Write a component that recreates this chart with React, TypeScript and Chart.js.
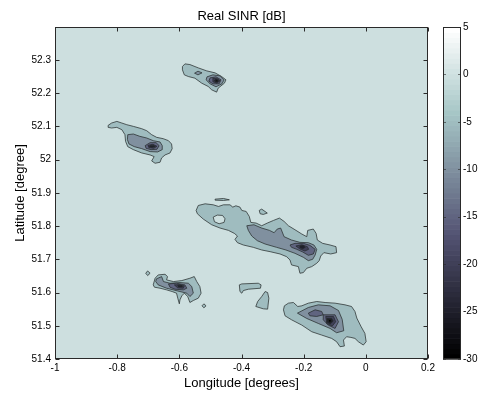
import React, { useEffect, useRef } from "react";
import { Chart, registerables } from "chart.js";

Chart.register(...registerables);

type Pt = [number, number];

// ---- axes / scale values ----
const lonRange = [-1, 0.2];
const latRange = [51.4, 52.399];
const sinrRange = [-30, 5];
const lonTicks = [-1, -0.8, -0.6, -0.4, -0.2, 0, 0.2];
const latTicks = [51.4, 51.5, 51.6, 51.7, 51.8, 51.9, 52.0, 52.1, 52.2, 52.3];
const cbTicks = [-30, -25, -20, -15, -10, -5, 0, 5];
const backgroundLevel = 0;

// ---- contour polygons [lon, lat] ----
// north cluster (~52.25)
const n1_5: Pt[] = [[-0.590,52.280],[-0.582,52.288],[-0.566,52.286],[-0.539,52.276],[-0.512,52.267],[-0.485,52.261],[-0.464,52.250],[-0.450,52.240],[-0.455,52.230],[-0.475,52.215],[-0.480,52.203],[-0.496,52.210],[-0.507,52.220],[-0.528,52.230],[-0.550,52.245],[-0.571,52.250],[-0.584,52.255],[-0.590,52.270]];
const n1_10a: Pt[] = [[-0.551,52.260],[-0.540,52.266],[-0.527,52.261],[-0.540,52.255]];
const n1_10b: Pt[] = [[-0.511,52.249],[-0.492,52.255],[-0.469,52.252],[-0.456,52.240],[-0.463,52.228],[-0.482,52.219],[-0.501,52.228],[-0.514,52.240]];
const n1_15: Pt[] = [[-0.501,52.246],[-0.482,52.249],[-0.466,52.240],[-0.472,52.228],[-0.492,52.228],[-0.505,52.236]];
const n1_20: Pt[] = [[-0.492,52.245],[-0.476,52.243],[-0.469,52.237],[-0.479,52.230],[-0.492,52.234]];
const n1_25: Pt[] = [[-0.485,52.241],[-0.476,52.240],[-0.474,52.236],[-0.482,52.233],[-0.488,52.237]];
const n1_30: Pt[] = [[-0.482,52.240],[-0.476,52.238],[-0.477,52.234],[-0.483,52.235]];

// north-west cluster (~52.05)
const n2_5: Pt[] = [[-0.829,52.103],[-0.818,52.110],[-0.801,52.115],[-0.785,52.110],[-0.769,52.105],[-0.748,52.100],[-0.721,52.093],[-0.705,52.087],[-0.689,52.075],[-0.673,52.067],[-0.652,52.063],[-0.635,52.057],[-0.625,52.047],[-0.623,52.033],[-0.630,52.020],[-0.646,52.014],[-0.657,52.005],[-0.662,51.992],[-0.678,51.989],[-0.689,51.996],[-0.681,52.009],[-0.694,52.014],[-0.721,52.020],[-0.748,52.030],[-0.766,52.039],[-0.773,52.055],[-0.775,52.075],[-0.785,52.090],[-0.801,52.097],[-0.818,52.095],[-0.829,52.097]];
const n2_10: Pt[] = [[-0.766,52.075],[-0.748,52.077],[-0.727,52.070],[-0.705,52.065],[-0.684,52.057],[-0.662,52.053],[-0.655,52.042],[-0.655,52.030],[-0.670,52.023],[-0.694,52.024],[-0.721,52.033],[-0.745,52.039],[-0.762,52.047],[-0.767,52.060]];
const n2_15: Pt[] = [[-0.710,52.042],[-0.694,52.051],[-0.675,52.051],[-0.665,52.042],[-0.672,52.031],[-0.691,52.030],[-0.707,52.034]];
const n2_20: Pt[] = [[-0.701,52.043],[-0.685,52.046],[-0.672,52.040],[-0.682,52.034],[-0.698,52.036]];
const n2_25: Pt[] = [[-0.694,52.042],[-0.681,52.042],[-0.678,52.039],[-0.688,52.037],[-0.696,52.039]];

// central band (~51.75)
const c3_5: Pt[] = [[-0.546,51.847],[-0.539,51.862],[-0.517,51.867],[-0.491,51.864],[-0.474,51.859],[-0.458,51.864],[-0.437,51.864],[-0.428,51.857],[-0.418,51.861],[-0.405,51.857],[-0.399,51.847],[-0.385,51.844],[-0.375,51.829],[-0.370,51.811],[-0.353,51.809],[-0.335,51.801],[-0.317,51.809],[-0.297,51.817],[-0.278,51.824],[-0.263,51.814],[-0.249,51.801],[-0.228,51.789],[-0.206,51.776],[-0.190,51.768],[-0.187,51.787],[-0.169,51.791],[-0.160,51.778],[-0.156,51.758],[-0.139,51.748],[-0.115,51.743],[-0.096,51.738],[-0.094,51.720],[-0.113,51.716],[-0.135,51.720],[-0.145,51.710],[-0.150,51.696],[-0.158,51.688],[-0.174,51.678],[-0.190,51.673],[-0.201,51.660],[-0.212,51.658],[-0.217,51.678],[-0.239,51.683],[-0.244,51.698],[-0.255,51.708],[-0.276,51.716],[-0.308,51.723],[-0.335,51.728],[-0.362,51.736],[-0.394,51.743],[-0.413,51.750],[-0.421,51.760],[-0.413,51.770],[-0.423,51.778],[-0.442,51.787],[-0.469,51.794],[-0.496,51.804],[-0.523,51.821],[-0.542,51.837]];
const c3_5b: Pt[] = [[-0.343,51.847],[-0.335,51.851],[-0.317,51.839],[-0.330,51.835],[-0.340,51.837]];
const c3_5c: Pt[] = [[-0.485,51.881],[-0.458,51.883],[-0.439,51.879],[-0.458,51.877],[-0.485,51.878]];
const c3_hole: Pt[] = [[-0.491,51.827],[-0.478,51.833],[-0.461,51.832],[-0.453,51.822],[-0.456,51.811],[-0.472,51.807],[-0.487,51.813]];
const c3_10: Pt[] = [[-0.383,51.801],[-0.360,51.804],[-0.335,51.794],[-0.310,51.787],[-0.295,51.780],[-0.285,51.791],[-0.274,51.794],[-0.263,51.768],[-0.239,51.758],[-0.212,51.751],[-0.185,51.750],[-0.167,51.743],[-0.158,51.730],[-0.163,51.713],[-0.171,51.700],[-0.185,51.696],[-0.201,51.706],[-0.228,51.718],[-0.257,51.728],[-0.287,51.736],[-0.324,51.746],[-0.349,51.756],[-0.367,51.770],[-0.378,51.787]];
const c3_15: Pt[] = [[-0.244,51.743],[-0.228,51.748],[-0.201,51.748],[-0.180,51.742],[-0.163,51.730],[-0.169,51.716],[-0.185,51.712],[-0.203,51.722],[-0.222,51.730],[-0.239,51.736]];
const c3_20: Pt[] = [[-0.225,51.740],[-0.206,51.744],[-0.188,51.738],[-0.184,51.730],[-0.196,51.725],[-0.212,51.731]];
const c3_25: Pt[] = [[-0.212,51.740],[-0.201,51.742],[-0.195,51.736],[-0.203,51.732],[-0.212,51.735]];

// west cluster (~51.62)
const c4_5: Pt[] = [[-0.684,51.623],[-0.678,51.643],[-0.668,51.653],[-0.646,51.655],[-0.638,51.648],[-0.641,51.638],[-0.619,51.633],[-0.592,51.636],[-0.566,51.643],[-0.552,51.648],[-0.544,51.633],[-0.534,51.618],[-0.530,51.598],[-0.539,51.583],[-0.555,51.576],[-0.566,51.570],[-0.573,51.588],[-0.584,51.598],[-0.592,51.590],[-0.598,51.578],[-0.600,51.566],[-0.605,51.583],[-0.609,51.598],[-0.623,51.603],[-0.641,51.608],[-0.662,51.613],[-0.680,51.616]];
const c4_5b: Pt[] = [[-0.708,51.658],[-0.702,51.665],[-0.694,51.658],[-0.702,51.651]];
const c4_5c: Pt[] = [[-0.527,51.560],[-0.521,51.566],[-0.514,51.560],[-0.521,51.554]];
const c4_10: Pt[] = [[-0.674,51.641],[-0.657,51.648],[-0.651,51.633],[-0.630,51.628],[-0.598,51.630],[-0.571,51.628],[-0.560,51.618],[-0.555,51.598],[-0.566,51.588],[-0.576,51.598],[-0.598,51.603],[-0.641,51.613],[-0.668,51.623],[-0.676,51.633]];
const c4_15: Pt[] = [[-0.635,51.626],[-0.609,51.628],[-0.582,51.623],[-0.576,51.613],[-0.587,51.608],[-0.614,51.610],[-0.630,51.616]];
const c4_20: Pt[] = [[-0.616,51.623],[-0.598,51.624],[-0.584,51.620],[-0.587,51.613],[-0.605,51.614]];
const c4_25: Pt[] = [[-0.605,51.621],[-0.592,51.621],[-0.590,51.617],[-0.603,51.617]];

// two small patches (~51.6, -0.35)
const b1_5: Pt[] = [[-0.407,51.623],[-0.399,51.626],[-0.346,51.628],[-0.337,51.623],[-0.339,51.613],[-0.378,51.610],[-0.394,51.606],[-0.399,51.598],[-0.405,51.603]];
const b2_5: Pt[] = [[-0.324,51.603],[-0.316,51.600],[-0.312,51.583],[-0.316,51.550],[-0.330,51.551],[-0.354,51.558],[-0.348,51.573],[-0.335,51.588]];

// south-east cluster (~51.51)
const c5_5: Pt[] = [[-0.265,51.548],[-0.262,51.560],[-0.249,51.568],[-0.233,51.570],[-0.219,51.558],[-0.206,51.560],[-0.185,51.568],[-0.158,51.573],[-0.131,51.570],[-0.099,51.568],[-0.067,51.563],[-0.046,51.558],[-0.035,51.543],[-0.029,51.523],[-0.015,51.497],[-0.003,51.477],[0.001,51.452],[-0.008,51.442],[-0.024,51.452],[-0.035,51.462],[-0.048,51.465],[-0.062,51.467],[-0.072,51.457],[-0.069,51.439],[-0.083,51.437],[-0.094,51.452],[-0.110,51.462],[-0.142,51.472],[-0.174,51.482],[-0.206,51.502],[-0.239,51.518],[-0.260,51.530]];
const c5_10: Pt[] = [[-0.220,51.538],[-0.185,51.555],[-0.153,51.563],[-0.115,51.560],[-0.088,51.546],[-0.076,51.519],[-0.071,51.485],[-0.094,51.479],[-0.115,51.492],[-0.153,51.507],[-0.190,51.522]];
const c5_15a: Pt[] = [[-0.185,51.538],[-0.163,51.548],[-0.142,51.543],[-0.137,51.533],[-0.158,51.528],[-0.180,51.530]];
const c5_15b: Pt[] = [[-0.137,51.533],[-0.099,51.533],[-0.088,51.512],[-0.099,51.492],[-0.121,51.502],[-0.137,51.518]];
const c5_20: Pt[] = [[-0.129,51.528],[-0.104,51.528],[-0.097,51.512],[-0.108,51.499],[-0.126,51.507]];
const c5_25: Pt[] = [[-0.125,51.522],[-0.110,51.522],[-0.105,51.514],[-0.115,51.505],[-0.125,51.511]];
const c5_30: Pt[] = [[-0.121,51.519],[-0.112,51.518],[-0.111,51.513],[-0.118,51.510]];

// drawing order: lowest layer first
const layers: { level: number; polys: Pt[][] }[] = [
  { level: -5, polys: [n1_5, n2_5, c3_5, c3_5b, c3_5c, c4_5, c4_5b, c4_5c, b1_5, b2_5, c5_5] },
  { level: 0, polys: [c3_hole] },
  { level: -10, polys: [n1_10a, n1_10b, n2_10, c3_10, c4_10, c5_10] },
  { level: -15, polys: [n1_15, n2_15, c3_15, c4_15, c5_15a, c5_15b] },
  { level: -20, polys: [n1_20, n2_20, c3_20, c4_20, c5_20] },
  { level: -25, polys: [n1_25, n2_25, c3_25, c4_25, c5_25] },
  { level: -30, polys: [n1_30, c5_30] },
];

const FONT = "'Liberation Sans', Arial, Helvetica, sans-serif";

// MATLAB "bone" colour map
function bone(t: number): string {
  const c = (v: number) => Math.min(1, Math.max(0, v));
  const hr = c(t / 0.375), hg = c((t - 0.375) / 0.375), hb = c((t - 0.75) / 0.25);
  const r = Math.round(((7 * t + hb) / 8) * 255);
  const g = Math.round(((7 * t + hg) / 8) * 255);
  const b = Math.round(((7 * t + hr) / 8) * 255);
  return `rgb(${r},${g},${b})`;
}
const levelColor = (v: number) => bone((v - sinrRange[0]) / (sinrRange[1] - sinrRange[0]));
const fmt = (v: any) => String(Math.round(Number(v) * 1000) / 1000);
const noPad = (s: any) => { s.paddingTop = 0; s.paddingBottom = 0; s.paddingLeft = 0; s.paddingRight = 0; };

const contourPlugin = {
  id: "contourFill",
  beforeDatasetsDraw(chart: any) {
    const { ctx, chartArea: a } = chart;
    ctx.save();
    ctx.fillStyle = levelColor(backgroundLevel);
    ctx.fillRect(a.left, a.top, a.right - a.left, a.bottom - a.top);
    ctx.beginPath();
    ctx.rect(a.left, a.top, a.right - a.left, a.bottom - a.top);
    ctx.clip();
    ctx.lineJoin = "round";
    chart.data.datasets.forEach((ds: any, i: number) => {
      const pts = chart.getDatasetMeta(i).data;
      if (!pts.length) return;
      ctx.beginPath();
      pts.forEach((p: any, j: number) => (j ? ctx.lineTo(p.x, p.y) : ctx.moveTo(p.x, p.y)));
      ctx.closePath();
      ctx.fillStyle = ds.backgroundColor;
      ctx.fill();
      ctx.lineWidth = 0.9;
      ctx.strokeStyle = ds.borderColor;
      ctx.stroke();
    });
    ctx.restore();
  },
};

const framePlugin = {
  id: "frameAndColorbar",
  afterDraw(chart: any) {
    const { ctx, chartArea: a, scales } = chart;
    ctx.save();
    // title
    ctx.fillStyle = "#000";
    ctx.font = `13px ${FONT}`;
    ctx.textAlign = "center";
    ctx.textBaseline = "alphabetic";
    ctx.fillText("Real SINR [dB]", (a.left + a.right) / 2, 20);

    const L = Math.round(a.left) + 0.5, R = Math.round(a.right) - 0.5;
    const T = Math.round(a.top) + 0.5, B = Math.round(a.bottom) - 0.5;
    ctx.strokeStyle = "#2a2a2a";
    ctx.lineWidth = 1;
    ctx.strokeRect(L, T, R - L, B - T);
    ctx.beginPath();
    for (const v of lonTicks) {
      const x = Math.round(scales.x.getPixelForValue(v)) + 0.5;
      ctx.moveTo(x, B); ctx.lineTo(x, B - 4);
      ctx.moveTo(x, T); ctx.lineTo(x, T + 4);
    }
    for (const v of latTicks) {
      const y = Math.round(scales.y.getPixelForValue(v)) + 0.5;
      ctx.moveTo(L, y); ctx.lineTo(L + 4, y);
      ctx.moveTo(R, y); ctx.lineTo(R - 4, y);
    }
    ctx.stroke();

    // colour bar
    const cb = scales.cb;
    const x0 = Math.round(a.right) + 15, w = 18;
    const n = 64;
    const span = sinrRange[1] - sinrRange[0];
    for (let i = 0; i < n; i++) {
      const v0 = sinrRange[0] + (i / n) * span;
      const y1 = cb.getPixelForValue(v0), y2 = cb.getPixelForValue(v0 + span / n);
      ctx.fillStyle = bone(i / (n - 1));
      ctx.fillRect(x0, y2, w, y1 - y2 + 0.6);
    }
    const yT = Math.round(cb.getPixelForValue(sinrRange[1])) + 0.5;
    const yB = Math.round(cb.getPixelForValue(sinrRange[0])) - 0.5;
    ctx.strokeStyle = "#2a2a2a";
    ctx.strokeRect(x0 + 0.5, yT, w - 1, yB - yT);
    ctx.beginPath();
    for (const v of cbTicks) {
      const y = Math.round(cb.getPixelForValue(v)) + 0.5;
      ctx.moveTo(x0, y); ctx.lineTo(x0 + 3, y);
      ctx.moveTo(x0 + w, y); ctx.lineTo(x0 + w - 3, y);
    }
    ctx.strokeStyle = "rgba(40,40,40,0.6)";
    ctx.stroke();
    ctx.restore();
  },
};

export default function App() {
  const ref = useRef<HTMLCanvasElement>(null);
  useEffect(() => {
    const datasets: any[] = [];
    layers.forEach((layer) => {
      layer.polys.forEach((poly) => {
        datasets.push({
          type: "scatter",
          data: poly.map(([x, y]) => ({ x, y })),
          backgroundColor: levelColor(layer.level),
          borderColor: "rgba(35,40,40,0.8)",
          pointRadius: 0,
          showLine: false,
        });
      });
    });
    const tickFont = { family: FONT, size: 10 };
    const chart = new Chart(ref.current as HTMLCanvasElement, {
      type: "scatter",
      data: { datasets },
      options: {
        animation: false,
        responsive: false,
        devicePixelRatio: 1,
        events: [],
        layout: { padding: { top: 27, left: 0, right: 0, bottom: 0 } },
        plugins: { legend: { display: false }, tooltip: { enabled: false }, title: { display: false } },
        scales: {
          x: {
            type: "linear",
            position: "bottom",
            min: lonRange[0],
            max: lonRange[1],
            grid: { display: false, drawTicks: false },
            border: { display: false },
            afterBuildTicks: (s: any) => { s.ticks = lonTicks.map((value) => ({ value })); },
            afterFit: (s: any) => { s.height = 38; noPad(s); },
            ticks: { font: tickFont, color: "#000", padding: 3, maxRotation: 0, autoSkip: false, callback: fmt },
            title: { display: true, text: "Longitude [degrees]", font: { family: FONT, size: 13 }, color: "#000", padding: { top: 0, bottom: 5.7 } },
          },
          y: {
            type: "linear",
            position: "left",
            min: latRange[0],
            max: latRange[1],
            grid: { display: false, drawTicks: false },
            border: { display: false },
            afterBuildTicks: (s: any) => { s.ticks = latTicks.map((value) => ({ value })); },
            afterFit: (s: any) => { s.width = 55; noPad(s); },
            ticks: { font: tickFont, color: "#000", padding: 4, autoSkip: false, callback: fmt },
            title: { display: true, text: "Latitude [degree]", font: { family: FONT, size: 13 }, color: "#000", padding: { top: 13, bottom: 0 } },
          },
          cb: {
            type: "linear",
            axis: "y",
            position: "right",
            min: sinrRange[0],
            max: sinrRange[1],
            grid: { display: false, drawTicks: false },
            border: { display: false },
            afterBuildTicks: (s: any) => { s.ticks = cbTicks.map((value) => ({ value })); },
            afterFit: (s: any) => { s.width = 60; noPad(s); },
            ticks: { font: tickFont, color: "#000", padding: 35, autoSkip: false, callback: fmt },
          },
        },
      } as any,
      plugins: [contourPlugin, framePlugin],
    });
    return () => chart.destroy();
  }, []);
  return (
    <div style={{ position: "absolute", left: 0, top: 0, width: 488, height: 397, background: "#fff" }}>
      <canvas ref={ref} width={488} height={397} style={{ width: 488, height: 397, display: "block" }} />
    </div>
  );
}
